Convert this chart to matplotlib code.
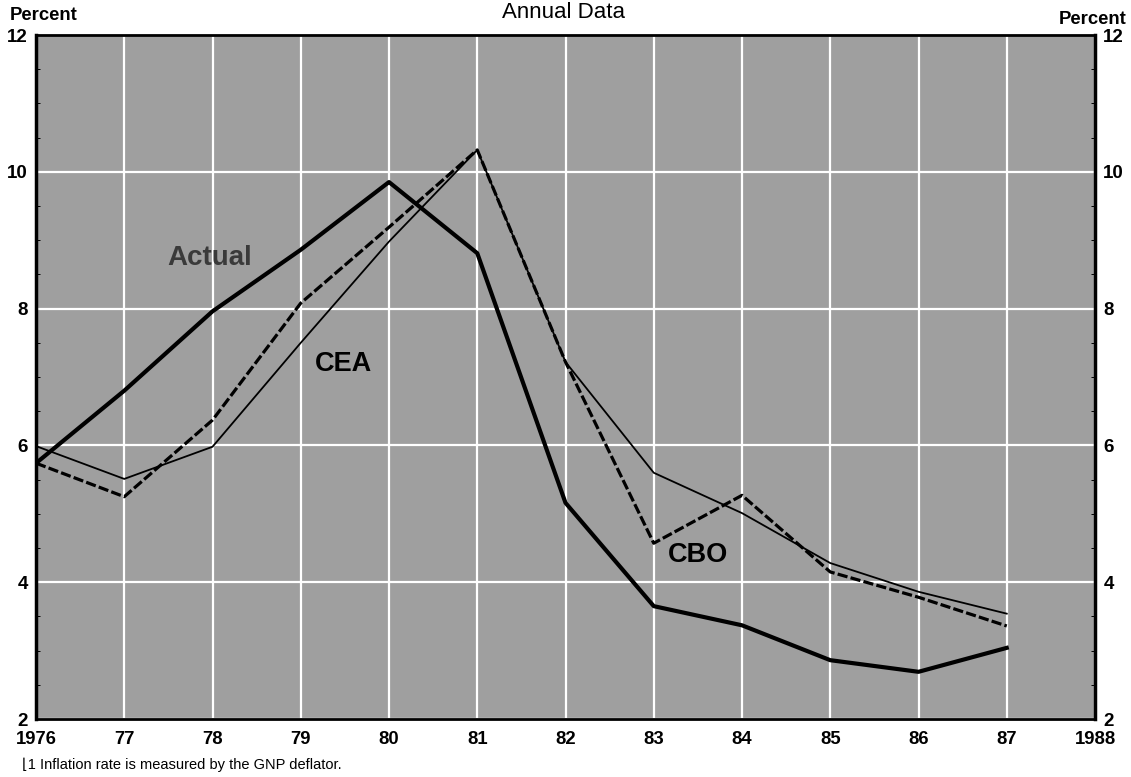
import matplotlib
matplotlib.use('Agg')
import matplotlib.pyplot as plt
from matplotlib.ticker import MultipleLocator

years = [1976, 1977, 1978, 1979, 1980, 1981, 1982, 1983, 1984, 1985, 1986, 1987]
actual = [5.74, 6.8, 7.96, 8.86, 9.85, 8.81, 5.16, 3.65, 3.37, 2.86, 2.69, 3.04]
cea = [5.99, 5.51, 5.98, 7.5, 8.98, 10.32, 7.22, 5.6, 5.01, 4.28, 3.86, 3.54]
cbo = [5.74, 5.25, 6.37, 8.08, 9.19, 10.32, 7.22, 4.57, 5.27, 4.15, 3.78, 3.36]

xtick_vals = list(range(1976, 1989))
xtick_labels = ['1976', '77', '78', '79', '80', '81', '82', '83', '84', '85', '86', '87', '1988']
ytick_vals = [2, 4, 6, 8, 10, 12]
ytick_labels = ['2', '4', '6', '8', '10', '12']

FONT = ['Liberation Sans', 'DejaVu Sans']
plt.rcParams['font.family'] = FONT

W, H = 1131, 777
fig = plt.figure(figsize=(W / 100, H / 100), dpi=100)
ax = fig.add_axes([36 / W, 1 - 719 / H, (1095 - 36) / W, (719 - 35) / H])
ax.set_facecolor('#9f9f9f')
ax.set_xlim(1976, 1988)
ax.set_ylim(2, 12)

ax.set_xticks(xtick_vals)
ax.set_xticklabels(xtick_labels, fontweight='bold', fontsize=13.3)
ax.set_yticks(ytick_vals)
ax.set_yticklabels(ytick_labels, fontweight='bold', fontsize=13.5)
ax.yaxis.set_minor_locator(MultipleLocator(0.5))
ax.grid(True, which='major', color='white', lw=1.6)
ax.set_axisbelow(True)

ax.tick_params(axis='x', length=0, pad=9)
ax.tick_params(axis='y', which='major', length=0, pad=6, labelright=True)
ax.tick_params(axis='y', which='minor', length=3, width=0.7, direction='in', right=True, left=True)

for side, lw in [('left', 2.5), ('right', 2.5), ('top', 2.0), ('bottom', 2.0)]:
    ax.spines[side].set_linewidth(lw)
    ax.spines[side].set_color('black')

ax.plot(years, cea, color='black', lw=1.3, solid_joinstyle='miter', zorder=3)
ax.plot(years, cbo, color='black', lw=2.3, dashes=(3.2, 1.0), zorder=3)
ax.plot(years, actual, color='black', lw=3.0, solid_joinstyle='round', zorder=4)

ax.text(1977.97, 8.74, 'Actual', fontsize=20, fontweight='bold', color='#3a3a3a',
        ha='center', va='center', zorder=5)
ax.text(1979.48, 7.19, 'CEA', fontsize=19.5, fontweight='bold', color='black',
        ha='center', va='center', zorder=5)
ax.text(1983.5, 4.4, 'CBO', fontsize=19.5, fontweight='bold', color='black',
        ha='center', va='center', zorder=5)

fig.text(10 / W, 1 - 15 / H, 'Percent', fontsize=13.3, fontweight='bold', ha='left', va='center')
fig.text(1127 / W, 1 - 19 / H, 'Percent', fontsize=13.3, fontweight='bold', ha='right', va='center')
fig.text(563 / W, 1 - 13 / H, 'Annual Data', fontsize=16, ha='center', va='center')
fig.text(22 / W, 1 - 765 / H, '\u230a1 Inflation rate is measured by the GNP deflator.',
         fontsize=10.5, ha='left', va='center', family=FONT)

fig.savefig('out.png', dpi=100)
